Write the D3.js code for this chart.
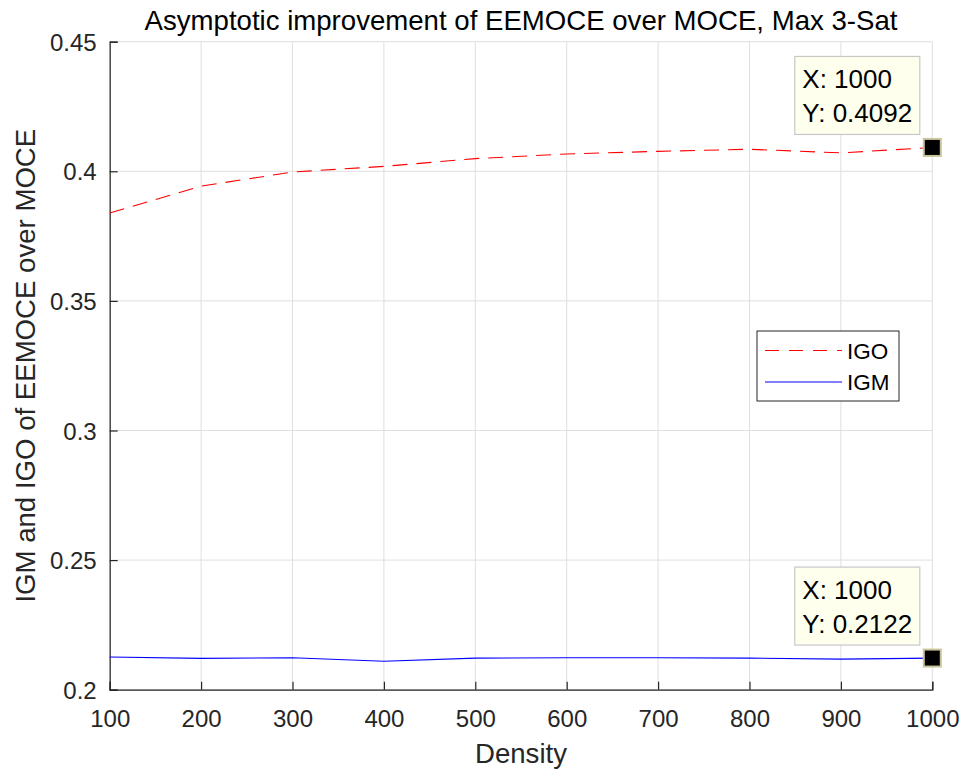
<!DOCTYPE html>
<html>
<head>
<meta charset="utf-8">
<script src="https://cdn.jsdelivr.net/npm/d3@7"></script>
<style>
  html, body { margin: 0; padding: 0; background: #fff; }
  svg { display: block; font-family: "Liberation Sans", Arial, Helvetica, sans-serif; }
</style>
</head>
<body>
<svg id="chart" width="961" height="769"></svg>
<script>
// Density values along the x axis
const densities = [100, 200, 300, 400, 500, 600, 700, 800, 900, 1000];
// Improvement in objective (IGO), dashed red
const igo = [0.3839, 0.3943, 0.3997, 0.4019, 0.4049, 0.4067, 0.4077, 0.4085, 0.4071, 0.4092];
// Improvement in mean (IGM), solid blue
const igm = [0.2126, 0.2121, 0.2123, 0.2110, 0.2122, 0.2123, 0.2123, 0.2122, 0.2118, 0.2122];
// Axis ticks
const xTicks = [100, 200, 300, 400, 500, 600, 700, 800, 900, 1000];
const yTicks = [0.2, 0.25, 0.3, 0.35, 0.4, 0.45];
const yTickLabels = ["0.2", "0.25", "0.3", "0.35", "0.4", "0.45"];
// Data tips pinned to the last point of each series
const tips = [
  { series: "IGO", x: 1000, y: 0.4092 },
  { series: "IGM", x: 1000, y: 0.2122 }
];

const svg = d3.select("#chart");
const margin = { left: 109.7, right: 961 - 932.3, top: 41.7, bottom: 769 - 689.7 };
const W = 961, H = 769;
const textColor = "#262626";

const x = d3.scaleLinear().domain([100, 1000]).range([margin.left, W - margin.right]);
const y = d3.scaleLinear().domain([0.2, 0.45]).range([H - margin.bottom, margin.top]);

// Grid
const grid = svg.append("g").attr("stroke", "#dfdfdf").attr("stroke-width", 1);
xTicks.forEach(t => grid.append("line")
  .attr("x1", x(t)).attr("x2", x(t)).attr("y1", y(0.2)).attr("y2", y(0.45)));
yTicks.forEach(t => grid.append("line")
  .attr("x1", x(100)).attr("x2", x(1000)).attr("y1", y(t)).attr("y2", y(t)));

// Axes (ticks pointing inward)
const xAxis = d3.axisBottom(x).tickValues(xTicks).tickSize(-8).tickPadding(20)
  .tickFormat(d3.format("d"));
const yAxis = d3.axisLeft(y).tickValues(yTicks).tickSize(-8).tickPadding(13)
  .tickFormat((d, i) => yTickLabels[i]);

const gx = svg.append("g").attr("transform", `translate(0,${y(0.2)})`).call(xAxis);
const gy = svg.append("g").attr("transform", `translate(${x(100)},0)`).call(yAxis);
[gx, gy].forEach(g => {
  g.selectAll("path").attr("stroke", textColor).attr("stroke-width", 1.2);
  g.selectAll("line").attr("stroke", textColor).attr("stroke-width", 1.2);
  g.selectAll("text").attr("fill", textColor).style("font-size", "24px")
    .style("font-family", "Liberation Sans, Arial, sans-serif");
});
gx.selectAll("text").attr("dy", "0.71em");
gy.selectAll("text").attr("dy", "0.36em");

// Lines
const line = d3.line().x((d, i) => x(densities[i])).y(d => y(d));
svg.append("path").datum(igo).attr("d", line).attr("fill", "none")
  .attr("stroke", "#ff0000").attr("stroke-width", 1.1).attr("stroke-dasharray", "15,9");
svg.append("path").datum(igm).attr("d", line).attr("fill", "none")
  .attr("stroke", "#0000ff").attr("stroke-width", 1.1);

// Title and axis labels
svg.append("text").attr("x", (x(100) + x(1000)) / 2).attr("y", 30)
  .attr("text-anchor", "middle").attr("fill", "#000").style("font-size", "27.6px")
  .text("Asymptotic improvement of EEMOCE over MOCE, Max 3-Sat");
svg.append("text").attr("x", (x(100) + x(1000)) / 2).attr("y", 763)
  .attr("text-anchor", "middle").attr("fill", textColor).style("font-size", "27.6px")
  .text("Density");
svg.append("text")
  .attr("transform", `translate(35,${(y(0.2) + y(0.45)) / 2}) rotate(-90)`)
  .attr("text-anchor", "middle").attr("fill", textColor).style("font-size", "27.6px")
  .text("IGM and IGO of EEMOCE over MOCE");

// Legend
const lg = svg.append("g").attr("transform", "translate(757,331)");
lg.append("rect").attr("width", 142).attr("height", 70)
  .attr("fill", "#fff").attr("stroke", "#262626").attr("stroke-width", 1);
const legendItems = [
  { name: "IGO", color: "#ff0000", dash: "14,10" },
  { name: "IGM", color: "#0000ff", dash: null }
];
legendItems.forEach((d, i) => {
  const yy = 19.5 + i * 31.5;
  lg.append("line").attr("x1", 8).attr("x2", 85).attr("y1", yy).attr("y2", yy)
    .attr("stroke", d.color).attr("stroke-width", 1.1)
    .attr("stroke-dasharray", d.dash);
  lg.append("text").attr("x", 90).attr("y", yy).attr("dy", "0.36em")
    .attr("fill", "#000").style("font-size", "22.5px").text(d.name);
});

// Data tips
tips.forEach(t => {
  const px = x(t.x), py = y(t.y);
  const g = svg.append("g");
  g.append("rect").attr("x", px - 137.5).attr("y", py - 91).attr("width", 125).attr("height", 78)
    .attr("fill", "#ffffee").attr("stroke", "#c8c8c8").attr("stroke-width", 1.2);
  g.append("text").attr("x", px - 130).attr("y", py - 59).attr("fill", "#000")
    .style("font-size", "26px").text("X: " + t.x);
  g.append("text").attr("x", px - 130).attr("y", py - 25).attr("fill", "#000")
    .style("font-size", "26px").text("Y: " + t.y.toFixed(4));
  g.append("rect").attr("x", px - 8.5).attr("y", py - 8.5).attr("width", 17).attr("height", 17)
    .attr("fill", "#000").attr("stroke", "#c9c49c").attr("stroke-width", 2);
});
</script>
</body>
</html>
